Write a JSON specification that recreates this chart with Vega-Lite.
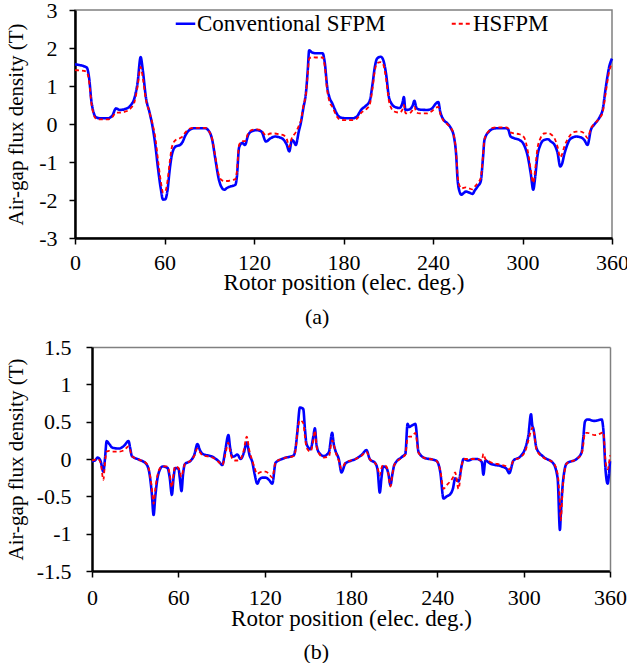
{
 "$schema": "https://vega.github.io/schema/vega-lite/v6.json",
 "padding": {"left": 5, "top": -2, "right": 0, "bottom": 0},
 "background": "white",
 "spacing": 7,
 "config": {
  "font": "Liberation Serif",
  "view": {"stroke": "#808080", "strokeWidth": 1.5},
  "axis": {"grid": false, "domainColor": "black", "domainWidth": 2.5, "tickColor": "black", "tickWidth": 1.5, "tickSize": 6,
   "labelFont": "Liberation Serif", "labelFontSize": 22, "labelColor": "black", "titleFont": "Liberation Serif", "titleFontSize": 23,
   "titleFontWeight": "normal", "titleColor": "black", "labelFlush": false},
  "legend": {"labelFont": "Liberation Serif", "labelFontSize": 23, "labelColor": "black"},
  "title": {"font": "Liberation Serif", "fontSize": 22, "fontWeight": "normal", "color": "black"}
 },
 "datasets": {
  "a": [
   {"x":0,"Conventional SFPM":1.57,"HSFPM":1.42},{"x":3,"Conventional SFPM":1.55,"HSFPM":1.41},{"x":6,"Conventional SFPM":1.52,"HSFPM":1.40},{"x":8,"Conventional SFPM":1.48,"HSFPM":1.36},{"x":9.5,"Conventional SFPM":1.2,"HSFPM":1.1},{"x":11,"Conventional SFPM":0.6,"HSFPM":0.55},{"x":12.5,"Conventional SFPM":0.3,"HSFPM":0.25},{"x":14,"Conventional SFPM":0.18,"HSFPM":0.14},{"x":17,"Conventional SFPM":0.15,"HSFPM":0.12},{"x":22,"Conventional SFPM":0.15,"HSFPM":0.12},{"x":25,"Conventional SFPM":0.22,"HSFPM":0.18},{"x":27.5,"Conventional SFPM":0.41,"HSFPM":0.3},{"x":30,"Conventional SFPM":0.37,"HSFPM":0.3},{"x":34,"Conventional SFPM":0.4,"HSFPM":0.33},{"x":37.5,"Conventional SFPM":0.5,"HSFPM":0.42},{"x":40,"Conventional SFPM":0.7,"HSFPM":0.6},{"x":42,"Conventional SFPM":1.1,"HSFPM":1.0},{"x":44,"Conventional SFPM":1.76,"HSFPM":1.5},{"x":45.5,"Conventional SFPM":1.4,"HSFPM":1.2},{"x":47.5,"Conventional SFPM":0.71,"HSFPM":0.65},{"x":50,"Conventional SFPM":0.3,"HSFPM":0.3},{"x":52,"Conventional SFPM":-0.07,"HSFPM":0.0},{"x":54,"Conventional SFPM":-0.6,"HSFPM":-0.4},{"x":55.5,"Conventional SFPM":-1.12,"HSFPM":-0.9},{"x":57.5,"Conventional SFPM":-1.7,"HSFPM":-1.5},{"x":59,"Conventional SFPM":-1.99,"HSFPM":-1.8},{"x":60.5,"Conventional SFPM":-1.98,"HSFPM":-1.78},{"x":62,"Conventional SFPM":-1.75,"HSFPM":-1.5},{"x":63.5,"Conventional SFPM":-1.2,"HSFPM":-1.0},{"x":65,"Conventional SFPM":-0.8,"HSFPM":-0.6},{"x":67.5,"Conventional SFPM":-0.59,"HSFPM":-0.42},{"x":70.5,"Conventional SFPM":-0.55,"HSFPM":-0.37},{"x":72,"Conventional SFPM":-0.48,"HSFPM":-0.33},{"x":74,"Conventional SFPM":-0.3,"HSFPM":-0.22},{"x":77,"Conventional SFPM":-0.15,"HSFPM":-0.12},{"x":80,"Conventional SFPM":-0.11,"HSFPM":-0.1},{"x":87,"Conventional SFPM":-0.11,"HSFPM":-0.1},{"x":90,"Conventional SFPM":-0.2,"HSFPM":-0.2},{"x":92,"Conventional SFPM":-0.42,"HSFPM":-0.4},{"x":94,"Conventional SFPM":-0.9,"HSFPM":-0.85},{"x":96.5,"Conventional SFPM":-1.47,"HSFPM":-1.35},{"x":98.5,"Conventional SFPM":-1.68,"HSFPM":-1.48},{"x":100,"Conventional SFPM":-1.73,"HSFPM":-1.5},{"x":102,"Conventional SFPM":-1.68,"HSFPM":-1.5},{"x":104.5,"Conventional SFPM":-1.64,"HSFPM":-1.48},{"x":107.5,"Conventional SFPM":-1.6,"HSFPM":-1.45},{"x":108.5,"Conventional SFPM":-1.4,"HSFPM":-1.25},{"x":110,"Conventional SFPM":-0.62,"HSFPM":-0.55},{"x":112,"Conventional SFPM":-0.5,"HSFPM":-0.45},{"x":114,"Conventional SFPM":-0.55,"HSFPM":-0.45},{"x":116,"Conventional SFPM":-0.3,"HSFPM":-0.25},{"x":118,"Conventional SFPM":-0.2,"HSFPM":-0.17},{"x":122,"Conventional SFPM":-0.16,"HSFPM":-0.14},{"x":125,"Conventional SFPM":-0.2,"HSFPM":-0.17},{"x":128,"Conventional SFPM":-0.46,"HSFPM":-0.3},{"x":131,"Conventional SFPM":-0.38,"HSFPM":-0.25},{"x":134,"Conventional SFPM":-0.33,"HSFPM":-0.25},{"x":137,"Conventional SFPM":-0.35,"HSFPM":-0.27},{"x":140,"Conventional SFPM":-0.42,"HSFPM":-0.3},{"x":142,"Conventional SFPM":-0.55,"HSFPM":-0.4},{"x":143.6,"Conventional SFPM":-0.72,"HSFPM":-0.6},{"x":145.5,"Conventional SFPM":-0.42,"HSFPM":-0.35},{"x":146.5,"Conventional SFPM":-0.45,"HSFPM":-0.3},{"x":148,"Conventional SFPM":-0.55,"HSFPM":-0.22},{"x":150,"Conventional SFPM":-0.2,"HSFPM":-0.05},{"x":151.5,"Conventional SFPM":0.05,"HSFPM":0.1},{"x":153,"Conventional SFPM":0.4,"HSFPM":0.45},{"x":155,"Conventional SFPM":0.89,"HSFPM":0.85},{"x":156,"Conventional SFPM":1.4,"HSFPM":1.3},{"x":157,"Conventional SFPM":1.94,"HSFPM":1.72},{"x":159,"Conventional SFPM":1.88,"HSFPM":1.76},{"x":162,"Conventional SFPM":1.86,"HSFPM":1.75},{"x":166,"Conventional SFPM":1.86,"HSFPM":1.75},{"x":167.5,"Conventional SFPM":1.6,"HSFPM":1.5},{"x":169,"Conventional SFPM":1.0,"HSFPM":0.9},{"x":170.5,"Conventional SFPM":0.71,"HSFPM":0.6},{"x":172.5,"Conventional SFPM":0.54,"HSFPM":0.45},{"x":174,"Conventional SFPM":0.4,"HSFPM":0.32},{"x":176,"Conventional SFPM":0.24,"HSFPM":0.17},{"x":178,"Conventional SFPM":0.17,"HSFPM":0.11},{"x":182,"Conventional SFPM":0.15,"HSFPM":0.1},{"x":186,"Conventional SFPM":0.15,"HSFPM":0.1},{"x":189,"Conventional SFPM":0.2,"HSFPM":0.14},{"x":192,"Conventional SFPM":0.38,"HSFPM":0.3},{"x":195,"Conventional SFPM":0.48,"HSFPM":0.38},{"x":197.5,"Conventional SFPM":0.6,"HSFPM":0.5},{"x":199.5,"Conventional SFPM":1.06,"HSFPM":0.95},{"x":201,"Conventional SFPM":1.5,"HSFPM":1.4},{"x":202.5,"Conventional SFPM":1.72,"HSFPM":1.6},{"x":205,"Conventional SFPM":1.77,"HSFPM":1.63},{"x":206.5,"Conventional SFPM":1.7,"HSFPM":1.58},{"x":208.5,"Conventional SFPM":1.33,"HSFPM":1.2},{"x":210.5,"Conventional SFPM":0.7,"HSFPM":0.6},{"x":212,"Conventional SFPM":0.55,"HSFPM":0.42},{"x":214,"Conventional SFPM":0.46,"HSFPM":0.33},{"x":217.5,"Conventional SFPM":0.42,"HSFPM":0.3},{"x":219.5,"Conventional SFPM":0.55,"HSFPM":0.38},{"x":220.5,"Conventional SFPM":0.71,"HSFPM":0.5},{"x":221.5,"Conventional SFPM":0.37,"HSFPM":0.28},{"x":224,"Conventional SFPM":0.38,"HSFPM":0.28},{"x":226.5,"Conventional SFPM":0.5,"HSFPM":0.38},{"x":227.5,"Conventional SFPM":0.61,"HSFPM":0.45},{"x":229,"Conventional SFPM":0.42,"HSFPM":0.3},{"x":231,"Conventional SFPM":0.38,"HSFPM":0.28},{"x":236,"Conventional SFPM":0.37,"HSFPM":0.28},{"x":239,"Conventional SFPM":0.4,"HSFPM":0.33},{"x":242,"Conventional SFPM":0.54,"HSFPM":0.43},{"x":243.5,"Conventional SFPM":0.58,"HSFPM":0.45},{"x":245,"Conventional SFPM":0.3,"HSFPM":0.25},{"x":246.5,"Conventional SFPM":0.15,"HSFPM":0.12},{"x":250,"Conventional SFPM":0.0,"HSFPM":-0.02},{"x":252,"Conventional SFPM":-0.11,"HSFPM":-0.1},{"x":254,"Conventional SFPM":-0.33,"HSFPM":-0.3},{"x":255.5,"Conventional SFPM":-0.8,"HSFPM":-0.75},{"x":256.5,"Conventional SFPM":-1.47,"HSFPM":-1.35},{"x":258,"Conventional SFPM":-1.8,"HSFPM":-1.65},{"x":259,"Conventional SFPM":-1.86,"HSFPM":-1.7},{"x":260.5,"Conventional SFPM":-1.82,"HSFPM":-1.68},{"x":262,"Conventional SFPM":-1.78,"HSFPM":-1.67},{"x":264,"Conventional SFPM":-1.8,"HSFPM":-1.69},{"x":266.5,"Conventional SFPM":-1.84,"HSFPM":-1.72},{"x":268,"Conventional SFPM":-1.75,"HSFPM":-1.65},{"x":270,"Conventional SFPM":-1.64,"HSFPM":-1.55},{"x":272,"Conventional SFPM":-1.51,"HSFPM":-1.42},{"x":273.5,"Conventional SFPM":-0.9,"HSFPM":-0.85},{"x":274.5,"Conventional SFPM":-0.42,"HSFPM":-0.4},{"x":277.5,"Conventional SFPM":-0.2,"HSFPM":-0.18},{"x":280,"Conventional SFPM":-0.13,"HSFPM":-0.1},{"x":283,"Conventional SFPM":-0.11,"HSFPM":-0.09},{"x":289,"Conventional SFPM":-0.11,"HSFPM":-0.09},{"x":290.5,"Conventional SFPM":-0.15,"HSFPM":-0.12},{"x":292,"Conventional SFPM":-0.33,"HSFPM":-0.22},{"x":295,"Conventional SFPM":-0.38,"HSFPM":-0.25},{"x":298,"Conventional SFPM":-0.42,"HSFPM":-0.27},{"x":301,"Conventional SFPM":-0.55,"HSFPM":-0.35},{"x":303.5,"Conventional SFPM":-0.85,"HSFPM":-0.7},{"x":305.5,"Conventional SFPM":-1.3,"HSFPM":-1.2},{"x":307.2,"Conventional SFPM":-1.73,"HSFPM":-1.55},{"x":308.5,"Conventional SFPM":-1.4,"HSFPM":-1.2},{"x":310,"Conventional SFPM":-0.85,"HSFPM":-0.65},{"x":312,"Conventional SFPM":-0.55,"HSFPM":-0.38},{"x":314.5,"Conventional SFPM":-0.42,"HSFPM":-0.25},{"x":317,"Conventional SFPM":-0.4,"HSFPM":-0.24},{"x":319,"Conventional SFPM":-0.46,"HSFPM":-0.27},{"x":321.5,"Conventional SFPM":-0.55,"HSFPM":-0.38},{"x":323.5,"Conventional SFPM":-0.76,"HSFPM":-0.6},{"x":325.3,"Conventional SFPM":-1.12,"HSFPM":-0.88},{"x":326.5,"Conventional SFPM":-1.05,"HSFPM":-0.8},{"x":328,"Conventional SFPM":-0.8,"HSFPM":-0.6},{"x":330,"Conventional SFPM":-0.55,"HSFPM":-0.42},{"x":331.5,"Conventional SFPM":-0.42,"HSFPM":-0.32},{"x":334,"Conventional SFPM":-0.35,"HSFPM":-0.22},{"x":336,"Conventional SFPM":-0.33,"HSFPM":-0.2},{"x":339,"Conventional SFPM":-0.35,"HSFPM":-0.2},{"x":341.4,"Conventional SFPM":-0.42,"HSFPM":-0.25},{"x":343.6,"Conventional SFPM":-0.55,"HSFPM":-0.37},{"x":345.8,"Conventional SFPM":-0.16,"HSFPM":-0.12},{"x":348,"Conventional SFPM":-0.02,"HSFPM":0.0},{"x":350.3,"Conventional SFPM":0.09,"HSFPM":0.09},{"x":352,"Conventional SFPM":0.2,"HSFPM":0.17},{"x":353.7,"Conventional SFPM":0.37,"HSFPM":0.3},{"x":355.9,"Conventional SFPM":0.98,"HSFPM":0.85},{"x":358.1,"Conventional SFPM":1.5,"HSFPM":1.38},{"x":360,"Conventional SFPM":1.72,"HSFPM":1.6}
  ],
  "b": [
   {"x":0,"Conventional SFPM":-0.03,"HSFPM":-0.02},{"x":2,"Conventional SFPM":-0.02,"HSFPM":-0.01},{"x":4,"Conventional SFPM":0.02,"HSFPM":0.0},{"x":6,"Conventional SFPM":-0.03,"HSFPM":-0.05},{"x":7.9,"Conventional SFPM":-0.17,"HSFPM":-0.28},{"x":9,"Conventional SFPM":0.0,"HSFPM":-0.05},{"x":10.2,"Conventional SFPM":0.24,"HSFPM":0.1},{"x":12,"Conventional SFPM":0.2,"HSFPM":0.11},{"x":14.3,"Conventional SFPM":0.15,"HSFPM":0.1},{"x":19,"Conventional SFPM":0.14,"HSFPM":0.1},{"x":22.4,"Conventional SFPM":0.18,"HSFPM":0.12},{"x":25.4,"Conventional SFPM":0.24,"HSFPM":0.17},{"x":26.5,"Conventional SFPM":0.15,"HSFPM":0.12},{"x":27.7,"Conventional SFPM":0.04,"HSFPM":0.04},{"x":32.8,"Conventional SFPM":-0.01,"HSFPM":-0.01},{"x":37.4,"Conventional SFPM":-0.06,"HSFPM":-0.05},{"x":39.7,"Conventional SFPM":-0.17,"HSFPM":-0.15},{"x":41.5,"Conventional SFPM":-0.45,"HSFPM":-0.38},{"x":42.8,"Conventional SFPM":-0.75,"HSFPM":-0.6},{"x":44,"Conventional SFPM":-0.5,"HSFPM":-0.4},{"x":45.5,"Conventional SFPM":-0.26,"HSFPM":-0.22},{"x":47,"Conventional SFPM":-0.15,"HSFPM":-0.13},{"x":49,"Conventional SFPM":-0.1,"HSFPM":-0.1},{"x":52.5,"Conventional SFPM":-0.12,"HSFPM":-0.1},{"x":54,"Conventional SFPM":-0.25,"HSFPM":-0.2},{"x":55.5,"Conventional SFPM":-0.48,"HSFPM":-0.38},{"x":56.7,"Conventional SFPM":-0.25,"HSFPM":-0.2},{"x":57.8,"Conventional SFPM":-0.12,"HSFPM":-0.1},{"x":60.1,"Conventional SFPM":-0.13,"HSFPM":-0.12},{"x":61,"Conventional SFPM":-0.25,"HSFPM":-0.18},{"x":62.2,"Conventional SFPM":-0.43,"HSFPM":-0.24},{"x":63.3,"Conventional SFPM":-0.2,"HSFPM":-0.15},{"x":64.5,"Conventional SFPM":-0.07,"HSFPM":-0.07},{"x":68.7,"Conventional SFPM":-0.02,"HSFPM":-0.02},{"x":71,"Conventional SFPM":0.05,"HSFPM":0.04},{"x":73.3,"Conventional SFPM":0.2,"HSFPM":0.14},{"x":75,"Conventional SFPM":0.12,"HSFPM":0.09},{"x":76.8,"Conventional SFPM":0.07,"HSFPM":0.05},{"x":83.7,"Conventional SFPM":0.03,"HSFPM":0.02},{"x":88,"Conventional SFPM":-0.03,"HSFPM":-0.04},{"x":90.6,"Conventional SFPM":-0.08,"HSFPM":-0.08},{"x":92.5,"Conventional SFPM":0.1,"HSFPM":0.05},{"x":94.8,"Conventional SFPM":0.32,"HSFPM":0.22},{"x":96,"Conventional SFPM":0.15,"HSFPM":0.1},{"x":97.6,"Conventional SFPM":0.03,"HSFPM":0.0},{"x":99.3,"Conventional SFPM":0.04,"HSFPM":-0.02},{"x":101,"Conventional SFPM":0.06,"HSFPM":-0.02},{"x":103.3,"Conventional SFPM":0.0,"HSFPM":0.0},{"x":105.5,"Conventional SFPM":0.08,"HSFPM":0.12},{"x":107.5,"Conventional SFPM":0.22,"HSFPM":0.3},{"x":109.5,"Conventional SFPM":0.05,"HSFPM":0.1},{"x":111.4,"Conventional SFPM":-0.04,"HSFPM":-0.02},{"x":113,"Conventional SFPM":-0.2,"HSFPM":-0.12},{"x":114.9,"Conventional SFPM":-0.33,"HSFPM":-0.2},{"x":116.5,"Conventional SFPM":-0.27,"HSFPM":-0.18},{"x":118.4,"Conventional SFPM":-0.25,"HSFPM":-0.17},{"x":120.7,"Conventional SFPM":-0.25,"HSFPM":-0.17},{"x":123,"Conventional SFPM":-0.28,"HSFPM":-0.2},{"x":125.3,"Conventional SFPM":-0.33,"HSFPM":-0.25},{"x":127.6,"Conventional SFPM":-0.05,"HSFPM":-0.04},{"x":133.4,"Conventional SFPM":0.01,"HSFPM":0.01},{"x":140.3,"Conventional SFPM":0.05,"HSFPM":0.04},{"x":141.5,"Conventional SFPM":0.15,"HSFPM":0.12},{"x":142.7,"Conventional SFPM":0.36,"HSFPM":0.35},{"x":144.5,"Conventional SFPM":0.69,"HSFPM":0.52},{"x":146.8,"Conventional SFPM":0.67,"HSFPM":0.48},{"x":148,"Conventional SFPM":0.4,"HSFPM":0.3},{"x":149.1,"Conventional SFPM":0.2,"HSFPM":0.15},{"x":151.9,"Conventional SFPM":0.13,"HSFPM":0.1},{"x":153.8,"Conventional SFPM":0.3,"HSFPM":0.25},{"x":154.9,"Conventional SFPM":0.41,"HSFPM":0.38},{"x":156,"Conventional SFPM":0.2,"HSFPM":0.18},{"x":157.6,"Conventional SFPM":0.09,"HSFPM":0.08},{"x":161.1,"Conventional SFPM":0.04,"HSFPM":0.02},{"x":164.6,"Conventional SFPM":0.09,"HSFPM":0.03},{"x":166.9,"Conventional SFPM":0.35,"HSFPM":0.25},{"x":168,"Conventional SFPM":0.2,"HSFPM":0.2},{"x":169.2,"Conventional SFPM":0.11,"HSFPM":0.1},{"x":171.5,"Conventional SFPM":0.0,"HSFPM":-0.02},{"x":173.4,"Conventional SFPM":-0.18,"HSFPM":-0.13},{"x":176.1,"Conventional SFPM":-0.06,"HSFPM":-0.05},{"x":183.1,"Conventional SFPM":0.0,"HSFPM":0.0},{"x":187.7,"Conventional SFPM":0.06,"HSFPM":0.05},{"x":190.7,"Conventional SFPM":0.12,"HSFPM":0.1},{"x":193,"Conventional SFPM":0.0,"HSFPM":0.0},{"x":197,"Conventional SFPM":-0.06,"HSFPM":-0.06},{"x":198.5,"Conventional SFPM":-0.15,"HSFPM":-0.12},{"x":200,"Conventional SFPM":-0.45,"HSFPM":-0.22},{"x":201.2,"Conventional SFPM":-0.25,"HSFPM":-0.12},{"x":202.3,"Conventional SFPM":-0.1,"HSFPM":-0.08},{"x":204.6,"Conventional SFPM":-0.12,"HSFPM":-0.1},{"x":206,"Conventional SFPM":-0.2,"HSFPM":-0.2},{"x":207.4,"Conventional SFPM":-0.35,"HSFPM":-0.37},{"x":208.8,"Conventional SFPM":-0.2,"HSFPM":-0.2},{"x":210.1,"Conventional SFPM":-0.08,"HSFPM":-0.08},{"x":215.5,"Conventional SFPM":0.03,"HSFPM":0.02},{"x":217.8,"Conventional SFPM":0.07,"HSFPM":0.06},{"x":219.3,"Conventional SFPM":0.47,"HSFPM":0.28},{"x":220.5,"Conventional SFPM":0.43,"HSFPM":0.3},{"x":222.4,"Conventional SFPM":0.45,"HSFPM":0.3},{"x":224.7,"Conventional SFPM":0.47,"HSFPM":0.35},{"x":227,"Conventional SFPM":0.09,"HSFPM":0.08},{"x":231.6,"Conventional SFPM":0.01,"HSFPM":0.01},{"x":237.4,"Conventional SFPM":-0.01,"HSFPM":-0.01},{"x":239.7,"Conventional SFPM":-0.03,"HSFPM":-0.03},{"x":242,"Conventional SFPM":-0.17,"HSFPM":-0.15},{"x":244.3,"Conventional SFPM":-0.53,"HSFPM":-0.4},{"x":246.5,"Conventional SFPM":-0.5,"HSFPM":-0.35},{"x":249,"Conventional SFPM":-0.47,"HSFPM":-0.3},{"x":250.8,"Conventional SFPM":-0.4,"HSFPM":-0.25},{"x":252.4,"Conventional SFPM":-0.26,"HSFPM":-0.18},{"x":254.7,"Conventional SFPM":-0.3,"HSFPM":-0.4},{"x":257,"Conventional SFPM":-0.08,"HSFPM":-0.08},{"x":258.2,"Conventional SFPM":0.0,"HSFPM":0.0},{"x":261.6,"Conventional SFPM":-0.02,"HSFPM":0.0},{"x":264.5,"Conventional SFPM":0.0,"HSFPM":0.0},{"x":267.5,"Conventional SFPM":0.0,"HSFPM":0.0},{"x":270.9,"Conventional SFPM":-0.04,"HSFPM":-0.02},{"x":272,"Conventional SFPM":-0.21,"HSFPM":0.07},{"x":273.4,"Conventional SFPM":-0.02,"HSFPM":0.0},{"x":276.7,"Conventional SFPM":-0.06,"HSFPM":-0.04},{"x":284.8,"Conventional SFPM":-0.1,"HSFPM":-0.08},{"x":288,"Conventional SFPM":-0.13,"HSFPM":-0.1},{"x":290,"Conventional SFPM":-0.19,"HSFPM":-0.14},{"x":292.9,"Conventional SFPM":-0.02,"HSFPM":-0.02},{"x":297.5,"Conventional SFPM":0.03,"HSFPM":0.02},{"x":301,"Conventional SFPM":0.14,"HSFPM":0.1},{"x":303.3,"Conventional SFPM":0.32,"HSFPM":0.25},{"x":305.1,"Conventional SFPM":0.6,"HSFPM":0.38},{"x":306,"Conventional SFPM":0.45,"HSFPM":0.42},{"x":306.7,"Conventional SFPM":0.41,"HSFPM":0.4},{"x":309,"Conventional SFPM":0.14,"HSFPM":0.12},{"x":313.7,"Conventional SFPM":0.03,"HSFPM":0.02},{"x":320.6,"Conventional SFPM":-0.06,"HSFPM":-0.05},{"x":323.6,"Conventional SFPM":-0.26,"HSFPM":-0.2},{"x":325.2,"Conventional SFPM":-0.95,"HSFPM":-0.6},{"x":325.8,"Conventional SFPM":-0.75,"HSFPM":-0.82},{"x":327.1,"Conventional SFPM":-0.35,"HSFPM":-0.4},{"x":329.9,"Conventional SFPM":-0.06,"HSFPM":-0.06},{"x":336.8,"Conventional SFPM":0.0,"HSFPM":0.0},{"x":340.3,"Conventional SFPM":0.09,"HSFPM":0.07},{"x":341.5,"Conventional SFPM":0.3,"HSFPM":0.2},{"x":342.6,"Conventional SFPM":0.5,"HSFPM":0.35},{"x":344.2,"Conventional SFPM":0.53,"HSFPM":0.35},{"x":349.5,"Conventional SFPM":0.51,"HSFPM":0.32},{"x":354.2,"Conventional SFPM":0.53,"HSFPM":0.35},{"x":355.3,"Conventional SFPM":0.41,"HSFPM":0.36},{"x":357,"Conventional SFPM":-0.17,"HSFPM":-0.05},{"x":358.3,"Conventional SFPM":-0.33,"HSFPM":-0.14},{"x":360,"Conventional SFPM":-0.03,"HSFPM":0.05}
  ]
 },
 "vconcat": [
  {
   "width": 537, "height": 228,
   "data": {"name": "a"},
   "title": {"text": "(a)", "orient": "bottom", "anchor": "middle", "frame": "bounds", "offset": 13},
   "transform": [{"fold": ["Conventional SFPM", "HSFPM"], "as": ["series", "B"]}],
   "mark": {"type": "line", "interpolate": "monotone"},
   "encoding": {
    "x": {"field": "x", "type": "quantitative", "scale": {"domain": [0, 360], "nice": false},
     "axis": {"values": [0, 60, 120, 180, 240, 300, 360], "title": "Rotor position (elec. deg.)", "labelPadding": 8, "titlePadding": -2}},
    "y": {"field": "B", "type": "quantitative", "scale": {"domain": [-3, 3], "nice": false},
     "axis": {"values": [-3, -2, -1, 0, 1, 2, 3], "title": "Air-gap flux density (T)", "labelExpr": "'' + datum.value", "labelPadding": 12, "titlePadding": 11.7, "titleFontSize": 21}},
    "color": {"field": "series", "type": "nominal", "scale": {"domain": ["Conventional SFPM", "HSFPM"], "range": ["#0000ff", "#ff0000"]},
     "legend": {"orient": "none", "legendX": 99, "legendY": 2, "direction": "horizontal", "title": null, "symbolType": "stroke", "symbolSize": 380, "symbolStrokeWidth": 2.5, "labelOffset": 0, "columnPadding": 62, "labelLimit": 400, "padding": 0}},
    "strokeDash": {"field": "series", "type": "nominal", "scale": {"domain": ["Conventional SFPM", "HSFPM"], "range": [[1, 0], [4, 3]]},
     "legend": {"orient": "none", "legendX": 99, "legendY": 2, "direction": "horizontal", "title": null, "symbolType": "stroke", "symbolSize": 380, "symbolStrokeWidth": 2.5, "labelOffset": 0, "columnPadding": 62, "labelLimit": 400, "padding": 0}},
    "strokeWidth": {"field": "series", "type": "nominal", "scale": {"domain": ["Conventional SFPM", "HSFPM"], "range": [2.6, 1.8]}, "legend": null}
   }
  },
  {
   "width": 535, "height": 224,
   "view": {"stroke": null},
   "data": {"name": "b"},
   "title": {"text": "(b)", "orient": "bottom", "anchor": "middle", "frame": "bounds", "offset": 12},
   "transform": [{"fold": ["Conventional SFPM", "HSFPM"], "as": ["series", "B"]}],
   "resolve": {"axis": {"x": "independent", "y": "independent"}},
   "layer": [
    {
     "mark": {"type": "line", "interpolate": "monotone"},
     "encoding": {
      "x": {"field": "x", "type": "quantitative", "scale": {"domain": [0, 360], "nice": false, "range": [17, 535]},
       "axis": {"values": [0, 60, 120, 180, 240, 300, 360], "title": "Rotor position (elec. deg.)", "labelPadding": 10, "titlePadding": -1}},
      "y": {"field": "B", "type": "quantitative", "scale": {"domain": [-1.5, 1.5], "nice": false},
       "axis": {"values": [-1.5, -1, -0.5, 0, 0.5, 1, 1.5], "title": "Air-gap flux density (T)", "labelExpr": "'' + datum.value", "labelPadding": 15, "titlePadding": 9.2, "titleFontSize": 21, "offset": -17}},
      "color": {"field": "series", "type": "nominal", "scale": {"domain": ["Conventional SFPM", "HSFPM"], "range": ["#0000ff", "#ff0000"]},
       "legend": {"orient": "none", "legendX": 109, "legendY": 3, "direction": "horizontal", "title": null, "symbolType": "stroke", "symbolSize": 380, "symbolStrokeWidth": 2.5, "labelOffset": 0, "columnPadding": 55, "labelLimit": 400, "padding": 0}},
      "strokeDash": {"field": "series", "type": "nominal", "scale": {"domain": ["Conventional SFPM", "HSFPM"], "range": [[1, 0], [4, 3]]},
       "legend": {"orient": "none", "legendX": 109, "legendY": 3, "direction": "horizontal", "title": null, "symbolType": "stroke", "symbolSize": 380, "symbolStrokeWidth": 2.5, "labelOffset": 0, "columnPadding": 55, "labelLimit": 400, "padding": 0}},
      "strokeWidth": {"field": "series", "type": "nominal", "scale": {"domain": ["Conventional SFPM", "HSFPM"], "range": [2.6, 1.8]}, "legend": null}
     }
    },
    {
     "mark": {"type": "line", "opacity": 0},
     "encoding": {
      "x": {"field": "x", "type": "quantitative",
       "axis": {"orient": "top", "values": [], "ticks": false, "labels": false, "title": null, "domainColor": "#808080", "domainWidth": 1.5}},
      "y": {"field": "B", "type": "quantitative",
       "axis": {"orient": "right", "values": [], "ticks": false, "labels": false, "title": null, "domainColor": "#808080", "domainWidth": 1.5}},
      "detail": {"field": "series"}
     }
    }
   ]
  }
 ]
}
